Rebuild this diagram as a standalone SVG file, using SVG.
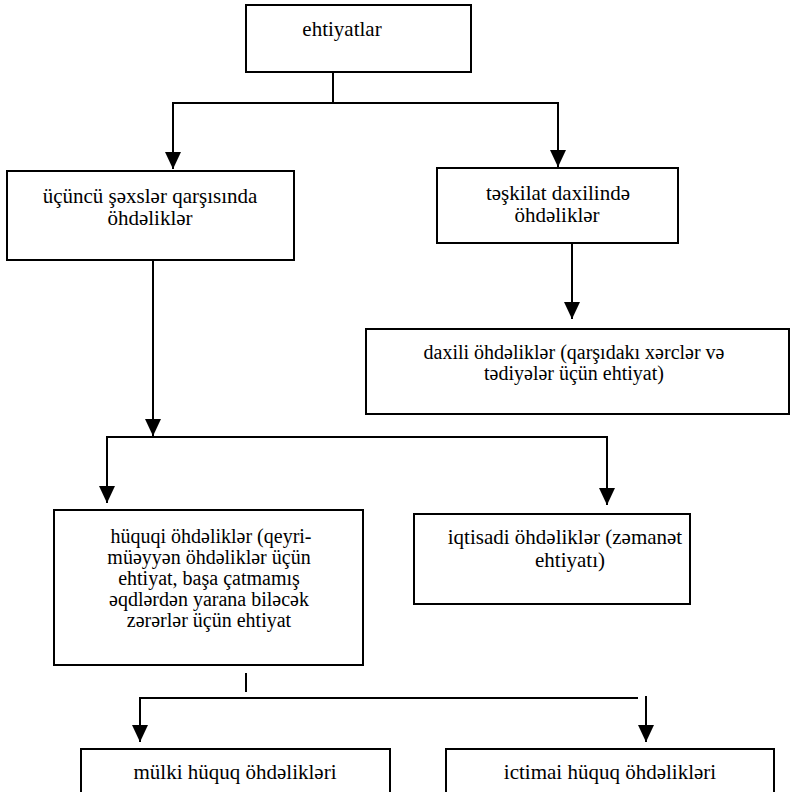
<svg xmlns="http://www.w3.org/2000/svg" width="791" height="792" viewBox="0 0 791 792">
<defs>
  <marker id="ah" markerUnits="userSpaceOnUse" markerWidth="18" markerHeight="18" refX="17" refY="8" orient="auto" viewBox="0 0 18 16">
    <path d="M0,0 L17,8 L0,16 z" fill="#000000"/>
  </marker>
</defs>
<rect width="791" height="792" fill="#ffffff"/>

<g id="connectors" fill="none" stroke="#000000" stroke-width="2">
  <path d="M333,72 V103"/>
  <path d="M172,103 H559"/>
  <path d="M173,103 V169" marker-end="url(#ah)"/>
  <path d="M558,103 V167" marker-end="url(#ah)"/>
  <path d="M572,243 V319" marker-end="url(#ah)"/>
  <path d="M153,260 V436" marker-end="url(#ah)"/>
  <path d="M107,437 H607"/>
  <path d="M107,436 V503" marker-end="url(#ah)"/>
  <path d="M607,436 V505" marker-end="url(#ah)"/>
  <path d="M246,673 V692"/>
  <path d="M140,698 H638"/>
  <path d="M140,697 V742" marker-end="url(#ah)"/>
  <path d="M646,696 V742" marker-end="url(#ah)"/>
</g>

<g id="ehtiyatlar">
  <rect x="246" y="5" width="225" height="67" fill="#ffffff" stroke="#000000" stroke-width="2"/>
  <text x="342" y="36" style="font-family:'Liberation Serif','Times New Roman',serif;font-size:21px" text-anchor="middle">ehtiyatlar</text>
</g>

<g id="ucuncu">
  <rect x="7" y="171" width="287" height="89" fill="#ffffff" stroke="#000000" stroke-width="2"/>
  <text x="150" y="203" style="font-family:'Liberation Serif','Times New Roman',serif;font-size:21px" text-anchor="middle">üçüncü şəxslər qarşısında</text>
  <text x="150" y="225" style="font-family:'Liberation Serif','Times New Roman',serif;font-size:21px" text-anchor="middle">öhdəliklər</text>
</g>

<g id="teskilat">
  <rect x="437" y="168" width="241" height="75" fill="#ffffff" stroke="#000000" stroke-width="2"/>
  <text x="558" y="200" style="font-family:'Liberation Serif','Times New Roman',serif;font-size:21px" text-anchor="middle">təşkilat daxilində</text>
  <text x="557" y="222" style="font-family:'Liberation Serif','Times New Roman',serif;font-size:21px" text-anchor="middle">öhdəliklər</text>
</g>

<g id="daxili">
  <rect x="366" y="329" width="423" height="85" fill="#ffffff" stroke="#000000" stroke-width="2"/>
  <text x="574" y="359" style="font-family:'Liberation Serif','Times New Roman',serif;font-size:20px" text-anchor="middle">daxili öhdəliklər (qarşıdakı xərclər və</text>
  <text x="574" y="380" style="font-family:'Liberation Serif','Times New Roman',serif;font-size:20px" text-anchor="middle">tədiyələr üçün ehtiyat)</text>
</g>

<g id="huquqi">
  <rect x="54" y="510" width="309" height="155" fill="#ffffff" stroke="#000000" stroke-width="2"/>
  <text x="211" y="543" style="font-family:'Liberation Serif','Times New Roman',serif;font-size:20px" text-anchor="middle">hüquqi öhdəliklər (qeyri-</text>
  <text x="209" y="564" style="font-family:'Liberation Serif','Times New Roman',serif;font-size:20px" text-anchor="middle">müəyyən öhdəliklər üçün</text>
  <text x="209" y="585" style="font-family:'Liberation Serif','Times New Roman',serif;font-size:20px" text-anchor="middle">ehtiyat, başa çatmamış</text>
  <text x="209" y="606" style="font-family:'Liberation Serif','Times New Roman',serif;font-size:20px" text-anchor="middle">əqdlərdən yarana biləcək</text>
  <text x="209" y="627" style="font-family:'Liberation Serif','Times New Roman',serif;font-size:20px" text-anchor="middle">zərərlər üçün ehtiyat</text>
</g>

<g id="iqtisadi">
  <rect x="414" y="514" width="276" height="90" fill="#ffffff" stroke="#000000" stroke-width="2"/>
  <text x="565" y="544" style="font-family:'Liberation Serif','Times New Roman',serif;font-size:21px" text-anchor="middle">iqtisadi öhdəliklər (zəmanət</text>
  <text x="570" y="567" style="font-family:'Liberation Serif','Times New Roman',serif;font-size:21px" text-anchor="middle">ehtiyatı)</text>
</g>

<g id="mulki">
  <rect x="81" y="749" width="309" height="60" fill="#ffffff" stroke="#000000" stroke-width="2"/>
  <text x="235" y="779" style="font-family:'Liberation Serif','Times New Roman',serif;font-size:21px" text-anchor="middle">mülki hüquq öhdəlikləri</text>
</g>

<g id="ictimai">
  <rect x="446" y="749" width="328" height="60" fill="#ffffff" stroke="#000000" stroke-width="2"/>
  <text x="610" y="779" style="font-family:'Liberation Serif','Times New Roman',serif;font-size:21px" text-anchor="middle">ictimai hüquq öhdəlikləri</text>
</g>
</svg>
